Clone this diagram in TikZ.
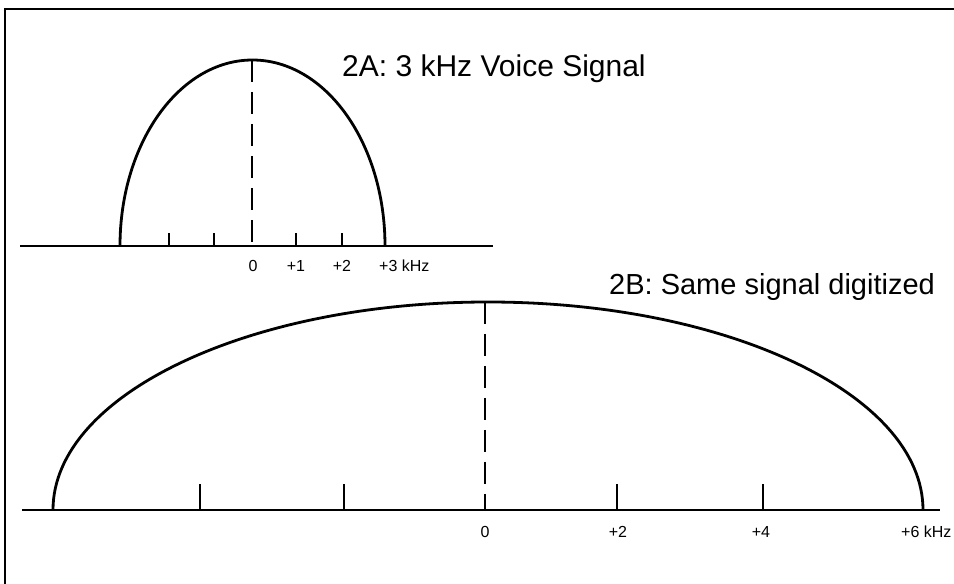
\documentclass[tikz,border=0pt]{standalone}
\usepackage{fontspec}
\setmainfont{Liberation Sans}
\usetikzlibrary{positioning}

\begin{document}
\begin{tikzpicture}[
x=1pt, y=1pt,
curve/.style={line width=2.8pt},
axis/.style={line width=2pt},
tick/.style={line width=2pt},
centre/.style={line width=2.2pt, dash pattern=on 22pt off 10pt},
ticklabel/.style={font=\fontsize{16}{18}\selectfont, inner sep=0pt},
title/.style={inner sep=0pt, anchor=west}
]
\useasboundingbox (0,0) rectangle (954,584);

% frame
\draw[line width=2.4pt] (5,0) -- (5,575) -- (954,575);

% 2A
\draw[axis] (20,338) -- (493,338);
\draw[curve] (120,338) arc[start angle=180, end angle=0, x radius=132.5pt, y radius=186pt];
\draw[centre] (252,524) -- (252,338);
\foreach \x in {169,214,296,342}
  \draw[tick] (\x,338) -- (\x,351);
\node[ticklabel] (a0) at (253,318) {0};
\node[ticklabel] (a1) at (296,318) {+1};
\node[ticklabel] (a2) at (342,318) {+2};
\node[ticklabel, anchor=west] (a3) at (379,318) {+3 kHz};
\node[title, font=\fontsize{30}{34}\selectfont] (titleA) at (342,515) {2A: 3 kHz Voice Signal};

% 2B
\draw[axis] (22,74) -- (940,74);
\draw[curve] (53,74) arc[start angle=180, end angle=0, x radius=435pt, y radius=208pt];
\draw[centre] (485,282) -- (485,74);
\foreach \x in {200,344,617,763}
  \draw[tick] (\x,74) -- (\x,100);
\node[ticklabel] (b0) at (485,52) {0};
\node[ticklabel] (b2) at (618,52) {+2};
\node[ticklabel] (b4) at (761,52) {+4};
\node[ticklabel, anchor=west] (b6) at (901,52) {+6 kHz};
\node[title, font=\fontsize{29}{33}\selectfont] (titleB) at (609,297) {2B: Same signal digitized};

\end{tikzpicture}
\end{document}
